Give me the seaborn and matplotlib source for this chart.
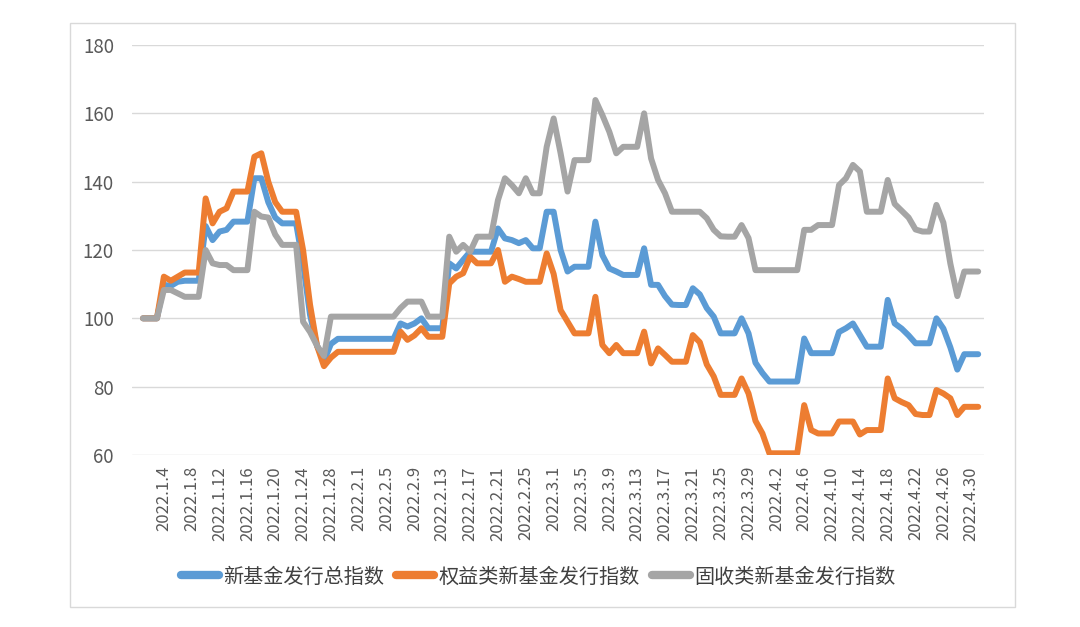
import numpy as np
import pandas as pd
import seaborn as sns
import matplotlib.pyplot as plt
from matplotlib.lines import Line2D
from matplotlib.patches import Rectangle

# daily values, 2022.1.1 - 2022.5.1
zong = [100, 100, 100, 109.8, 109.5, 110.7, 111, 111, 111, 127,
        122.9, 125.4, 125.9, 128.3, 128.3, 128.3, 141, 141, 134, 129.5,
        127.8, 127.8, 127.8, 116, 101, 92, 87.5, 92.5, 94, 94,
        94, 94, 94, 94, 94, 94, 94, 98.5, 97.6, 98.5,
        100, 97.1, 97.1, 97.1, 116.1, 114.6, 117.1, 119.5, 119.5, 119.5,
        119.5, 126.3, 123.4, 122.9, 122, 122.9, 120.5, 120.5, 131.2, 131.2,
        120, 113.7, 115.1, 115.1, 115.1, 128.3, 118.5, 114.6, 113.7, 112.7,
        112.7, 112.7, 120.5, 109.8, 109.8, 106.5, 104, 103.9, 103.9, 108.8,
        107, 103, 100.5, 95.6, 95.6, 95.6, 100, 95.6, 87, 84,
        81.5, 81.5, 81.5, 81.5, 81.5, 94.1, 89.8, 89.8, 89.8, 89.8,
        96, 97.1, 98.5, 95.1, 91.7, 91.7, 91.7, 105.4, 98.5, 97,
        95, 92.7, 92.7, 92.7, 100, 97, 91.5, 85, 89.5, 89.5,
        89.5]

quanyi = [100, 100, 100, 112.2, 111, 112.2, 113.4, 113.4, 113.4, 135.1,
          127.8, 131.2, 132.2, 137.1, 137.1, 137.1, 147.3, 148.3, 140, 134,
          131.2, 131.2, 131.2, 120, 104, 92, 86, 88.5, 90.2, 90.2,
          90.2, 90.2, 90.2, 90.2, 90.2, 90.2, 90.2, 96.1, 93.7, 95,
          97.1, 94.6, 94.6, 94.6, 110.2, 112.2, 113.2, 118, 116.1, 116.1,
          116.1, 120, 110.7, 112.2, 111.5, 110.7, 110.7, 110.7, 119, 113,
          102.4, 99, 95.6, 95.6, 95.6, 106.3, 92.2, 89.8, 92.2, 89.8,
          89.8, 89.8, 96.1, 86.8, 91.2, 89.3, 87.3, 87.3, 87.3, 95.1,
          93, 86.5, 83, 77.6, 77.6, 77.6, 82.4, 78, 70, 66.3,
          60.5, 60.5, 60.5, 60.5, 60.5, 74.6, 67.3, 66.3, 66.3, 66.3,
          69.8, 69.8, 69.8, 66, 67.3, 67.3, 67.3, 82.4, 76.6, 75.5,
          74.6, 72, 71.7, 71.7, 79, 78, 76.6, 71.7, 74.1, 74.1,
          74.1]

gushou = [100, 100, 100, 108.3, 108.3, 107.3, 106.3, 106.3, 106.3, 120,
          116.1, 115.6, 115.6, 114.1, 114.1, 114.1, 131.2, 129.8, 129.5, 124.5,
          121.5, 121.5, 121.5, 99, 96, 92, 89, 100.5, 100.5, 100.5,
          100.5, 100.5, 100.5, 100.5, 100.5, 100.5, 100.5, 103, 104.9, 104.9,
          104.9, 100.5, 100.5, 100.5, 123.9, 119.5, 121.5, 119.5, 123.9, 123.9,
          123.9, 134.6, 141, 139, 136.6, 141, 136.6, 136.6, 150.2, 158.5,
          148.3, 137.1, 146.3, 146.3, 146.3, 163.9, 159.5, 154.6, 148.3, 150.2,
          150.2, 150.2, 160, 146.8, 140.5, 136.6, 131.2, 131.2, 131.2, 131.2,
          131.2, 129.3, 125.9, 124, 123.9, 123.9, 127.3, 123.5, 114.1, 114.1,
          114.1, 114.1, 114.1, 114.1, 114.1, 125.9, 125.9, 127.3, 127.3, 127.3,
          139, 141, 144.9, 143, 131.2, 131.2, 131.2, 140.5, 133.5, 131.5,
          129.5, 126, 125.4, 125.4, 133.2, 128, 116, 106.5, 113.7, 113.7,
          113.7]

namen = ['新基金发行总指数', '权益类新基金发行指数', '固收类新基金发行指数']
farben = ['#5B9BD5', '#ED7D31', '#A5A5A5']

tage = pd.date_range('2022-01-01', periods=len(zong))
daten = pd.DataFrame({'tag': np.arange(len(zong)),
                      namen[0]: zong, namen[1]: quanyi, namen[2]: gushou})

sns.set_theme(style='white')
plt.rcParams['font.family'] = ['Noto Sans CJK SC', 'DejaVu Sans']

fig = plt.figure(figsize=(10.8, 6.27), dpi=100)
ax = fig.add_axes([132 / 1080, 1 - 455 / 627, (984 - 132) / 1080, (455 - 45) / 627])

for name, farbe in zip(namen, farben):
    sns.lineplot(ax=ax, x='tag', y=name, data=daten, color=farbe,
                 linewidth=4.3, solid_capstyle='round', solid_joinstyle='round',
                 label=name, legend=False)

ax.set_xlim(-11 / 6.96, 841 / 6.96)
ax.set_ylim(60, 180)
ax.set_yticks(range(60, 181, 20))
ax.yaxis.grid(True, color='#D9D9D9', linewidth=1)
ax.set_axisbelow(True)
for s in ax.spines.values():
    s.set_visible(False)

ticks = list(range(3, len(zong), 4))
ax.set_xticks(ticks)
ax.set_xticklabels([f'{tage[i].year}.{tage[i].month}.{tage[i].day}' for i in ticks],
                   rotation=90, fontsize=12, color='#595959')
ax.tick_params(axis='x', length=0, pad=8)
ax.tick_params(axis='y', length=0, pad=13, labelsize=13.5, labelcolor='#595959')
ax.set_xlabel('')
ax.set_ylabel('')

griffe = [Line2D([0], [0], color=f, linewidth=6, solid_capstyle='round') for f in farben]
fig.legend(griffe, namen, loc='center', bbox_to_anchor=(538 / 1080, 1 - 577 / 627),
           ncol=3, frameon=False, fontsize=14.5, handlelength=1.9, handletextpad=0.2,
           columnspacing=0.6, labelcolor='#404040')

fig.patches.append(Rectangle((70 / 1080, 1 - 607 / 627), (1015 - 70) / 1080, (607 - 23) / 627,
                             transform=fig.transFigure, fill=False,
                             edgecolor='#D9D9D9', linewidth=1))

fig.savefig('out.png', dpi=100)
